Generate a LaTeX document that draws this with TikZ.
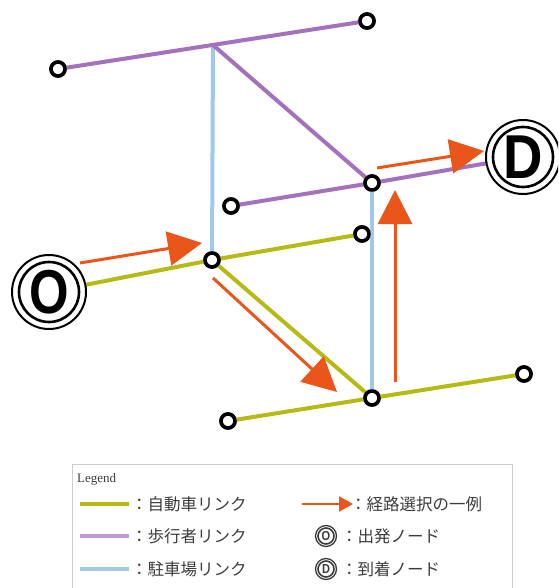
\documentclass[tikz,border=0pt]{standalone}
\usepackage{fontspec}
\setmainfont{Liberation Sans}
\newfontfamily\cjk{Noto Sans CJK JP}
\newfontfamily\legserif{Liberation Serif}
\usetikzlibrary{arrows.meta}
\definecolor{carg}{RGB}{184,186,20}
\definecolor{walkp}{RGB}{163,113,190}
\definecolor{parkb}{RGB}{160,200,232}
\definecolor{routeo}{RGB}{234,86,26}
\definecolor{boxg}{RGB}{205,205,205}
\definecolor{legtext}{RGB}{60,60,60}
\tikzset{
  carlink/.style={draw=carg,line width=4pt},
  walklink/.style={draw=walkp,line width=4pt},
  parklink/.style={draw=parkb,line width=4pt},
  route/.style={draw=routeo,line width=3pt,-{Triangle[length=34pt,width=34pt]}},
  legroute/.style={draw=routeo,line width=2.5pt,-{Triangle[length=14pt,width=15pt]}},
  pt/.style={circle,draw=black,fill=white,line width=3.5pt,minimum size=14pt,inner sep=0pt},
  ringout/.style={circle,draw=black,fill=white,line width=2pt,minimum size=74pt,inner sep=0pt},
  ringin/.style={circle,draw=black,fill=white,line width=2.6pt,minimum size=60pt,inner sep=0pt,
    font=\fontsize{62}{62}\selectfont\bfseries},
  legtxt/.style={anchor=west,inner sep=0pt,text=legtext,font=\cjk\fontsize{16.5}{16.5}\selectfont},
  legout/.style={circle,draw=legtext,line width=1.3pt,minimum size=21pt,inner sep=0pt},
  legin/.style={circle,draw=legtext,line width=1.6pt,minimum size=16pt,inner sep=0pt,text=legtext,
    font=\fontsize{13}{13}\selectfont\bfseries},
}
\begin{document}
\begin{tikzpicture}[x=1pt,y=-1pt]
\useasboundingbox (0,0) rectangle (558,588);
\clip (0,0) rectangle (558,588);
\coordinate (j1) at (213,45);
\node[pt] (a1) at (58,69) {};
\node[pt] (a2) at (367,21) {};
\node[pt] (b1) at (231,206) {};
\node[pt] (b2) at (372,183) {};
\node[pt] (c1) at (212,260) {};
\node[pt] (c2) at (362,234) {};
\node[pt] (d1) at (228,421) {};
\node[pt] (d2) at (372,398) {};
\node[pt] (d3) at (524,374) {};
\node[circle,minimum size=74pt,inner sep=0pt] (O) at (49,292) {};
\node[circle,minimum size=74pt,inner sep=0pt] (D) at (523,157) {};
% links
\draw[parklink] (j1) -- (c1.center);
\draw[parklink] (b2.center) -- (d2.center);
\draw[walklink] (a1.center) -- (a2.center);
\draw[walklink] (j1) -- (b2.center);
\draw[walklink] (b1.center) -- (b2.center) -- (D.center);
\draw[carlink] (O.center) -- (c1.center) -- (c2.center);
\draw[carlink] (c1.center) -- (d2.center);
\draw[carlink] (d1.center) -- (d2.center) -- (d3.center);
% route arrows
\coordinate (r1s) at (80,263); \coordinate (r1e) at (202,243);
\coordinate (r2s) at (213,278); \coordinate (r2e) at (337,392);
\coordinate (r3s) at (395,382); \coordinate (r3e) at (395,190);
\coordinate (r4s) at (377,168); \coordinate (r4e) at (484,151);
\draw[route] (r1s) -- (r1e);
\draw[route] (r2s) -- (r2e);
\draw[route] (r3s) -- (r3e);
\draw[route] (r4s) -- (r4e);
\foreach \n in {a1,a2,b1,b2,c1,c2,d1,d2,d3}
  \node[pt] at (\n) {};
% O and D
\node[ringout] at (O) {};
\node[ringin] at (O) {\scalebox{0.82}[1]{O}};
\node[ringout] at (D) {};
\node[ringin] at (D) {\scalebox{0.88}[1]{D}};
% legend
\draw[boxg,line width=1pt] (72,464) rectangle (512,600);
\node[anchor=west,inner sep=0pt,text=legtext,font=\legserif\fontsize{13}{13}\selectfont] (lg) at (77,479) {Legend};
\coordinate (l1s) at (80,504); \coordinate (l1e) at (129,504);
\coordinate (l2s) at (80,536); \coordinate (l2e) at (129,536);
\coordinate (l3s) at (80,569); \coordinate (l3e) at (129,569);
\draw[carlink,line width=3.5pt] (l1s) -- (l1e);
\draw[walklink,line width=3.5pt,draw=walkp!70] (l2s) -- (l2e);
\draw[parklink,line width=3.5pt] (l3s) -- (l3e);
\node[legtxt] (t1) at (131,504) {：自動車リンク};
\node[legtxt] (t2) at (131,536) {：歩行者リンク};
\node[legtxt] (t3) at (131,569) {：駐車場リンク};
\coordinate (l4s) at (302,504); \coordinate (l4e) at (353,504);
\draw[legroute] (l4s) -- (l4e);
\node[legtxt] (t4) at (350,504) {：経路選択の一例};
\node[legout] (lo) at (326,536) {};
\node[legin] at (lo) {\scalebox{0.85}[1]{O}};
\node[legout] (ld) at (326,569) {};
\node[legin] at (ld) {\scalebox{0.85}[1]{D}};
\node[legtxt] (t5) at (341,536) {：出発ノード};
\node[legtxt] (t6) at (341,569) {：到着ノード};
\end{tikzpicture}
\end{document}
